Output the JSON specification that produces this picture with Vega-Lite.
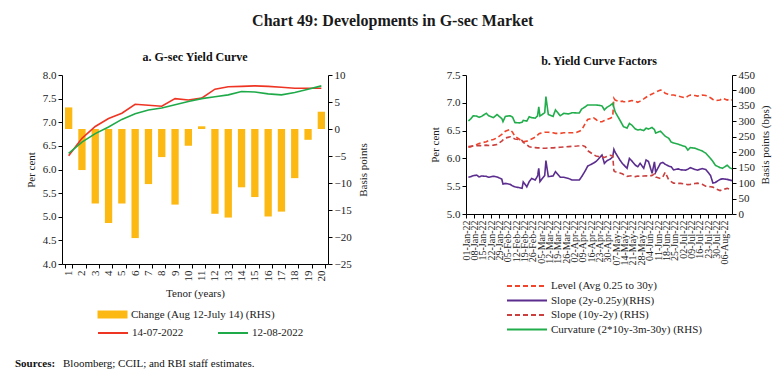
{
  "$schema": "https://vega.github.io/schema/vega-lite/v6.json",
  "padding": {"left": 15, "top": 13, "right": 5, "bottom": 5},
  "title": {"text": "Chart 49: Developments in G-sec Market", "fontSize": 16, "fontWeight": 600, "color": "#1a1a1a", "anchor": "middle", "offset": 22},
  "config": {
    "font": "Liberation Serif",
    "view": {"stroke": null},
    "axis": {"grid": false, "domainColor": "#000", "tickColor": "#000", "labelFontSize": 11, "titleFontSize": 11, "titleFontWeight": "normal", "labelColor": "#222", "titleColor": "#222", "tickSize": 4},
    "legend": {"labelFontSize": 11, "labelColor": "#222"},
    "title": {"fontSize": 12, "fontWeight": "bold", "color": "#111"}
  },
  "datasets": {
    "curve": [
      {"tenor": 1, "change": 4.0}, {"tenor": 2, "change": -7.6}, {"tenor": 3, "change": -13.8}, {"tenor": 4, "change": -17.4},
      {"tenor": 5, "change": -13.8}, {"tenor": 6, "change": -20.2}, {"tenor": 7, "change": -10.2}, {"tenor": 8, "change": -5.2},
      {"tenor": 9, "change": -14.0}, {"tenor": 10, "change": -3.1}, {"tenor": 11, "change": 0.5}, {"tenor": 12, "change": -15.7},
      {"tenor": 13, "change": -16.4}, {"tenor": 14, "change": -10.8}, {"tenor": 15, "change": -12.6}, {"tenor": 16, "change": -16.2},
      {"tenor": 17, "change": -15.3}, {"tenor": 18, "change": -9.1}, {"tenor": 19, "change": -2.0}, {"tenor": 20, "change": 3.2}
    ],
    "yields": [
      {"tenor": 1, "series": "14-07-2022", "value": 6.29}, {"tenor": 2, "series": "14-07-2022", "value": 6.66},
      {"tenor": 3, "series": "14-07-2022", "value": 6.91}, {"tenor": 4, "series": "14-07-2022", "value": 7.08},
      {"tenor": 5, "series": "14-07-2022", "value": 7.19}, {"tenor": 6, "series": "14-07-2022", "value": 7.38},
      {"tenor": 7, "series": "14-07-2022", "value": 7.36}, {"tenor": 8, "series": "14-07-2022", "value": 7.34},
      {"tenor": 9, "series": "14-07-2022", "value": 7.50}, {"tenor": 10, "series": "14-07-2022", "value": 7.47},
      {"tenor": 11, "series": "14-07-2022", "value": 7.51}, {"tenor": 12, "series": "14-07-2022", "value": 7.70},
      {"tenor": 13, "series": "14-07-2022", "value": 7.75}, {"tenor": 14, "series": "14-07-2022", "value": 7.76},
      {"tenor": 15, "series": "14-07-2022", "value": 7.77}, {"tenor": 16, "series": "14-07-2022", "value": 7.76},
      {"tenor": 17, "series": "14-07-2022", "value": 7.74}, {"tenor": 18, "series": "14-07-2022", "value": 7.72},
      {"tenor": 19, "series": "14-07-2022", "value": 7.72}, {"tenor": 20, "series": "14-07-2022", "value": 7.72},
      {"tenor": 1, "series": "12-08-2022", "value": 6.34}, {"tenor": 2, "series": "12-08-2022", "value": 6.58},
      {"tenor": 3, "series": "12-08-2022", "value": 6.76}, {"tenor": 4, "series": "12-08-2022", "value": 6.90},
      {"tenor": 5, "series": "12-08-2022", "value": 7.06}, {"tenor": 6, "series": "12-08-2022", "value": 7.18},
      {"tenor": 7, "series": "12-08-2022", "value": 7.26}, {"tenor": 8, "series": "12-08-2022", "value": 7.30},
      {"tenor": 9, "series": "12-08-2022", "value": 7.37}, {"tenor": 10, "series": "12-08-2022", "value": 7.44},
      {"tenor": 11, "series": "12-08-2022", "value": 7.50}, {"tenor": 12, "series": "12-08-2022", "value": 7.54},
      {"tenor": 13, "series": "12-08-2022", "value": 7.58}, {"tenor": 14, "series": "12-08-2022", "value": 7.65},
      {"tenor": 15, "series": "12-08-2022", "value": 7.64}, {"tenor": 16, "series": "12-08-2022", "value": 7.60},
      {"tenor": 17, "series": "12-08-2022", "value": 7.58}, {"tenor": 18, "series": "12-08-2022", "value": 7.63},
      {"tenor": 19, "series": "12-08-2022", "value": 7.70}, {"tenor": 20, "series": "12-08-2022", "value": 7.77}
    ],
    "factors": [
      {"date": "2022-01-03T00:00", "level": 6.20, "s1": 119, "s2": 218, "curv": 301},
      {"date": "2022-01-05T00:00", "level": 6.21, "s1": 121, "s2": 219, "curv": 308},
      {"date": "2022-01-07T00:00", "level": 6.23, "s1": 124, "s2": 220, "curv": 318},
      {"date": "2022-01-10T00:00", "level": 6.25, "s1": 126, "s2": 221, "curv": 317},
      {"date": "2022-01-12T00:00", "level": 6.27, "s1": 120, "s2": 222, "curv": 313},
      {"date": "2022-01-14T00:00", "level": 6.28, "s1": 123, "s2": 221, "curv": 316},
      {"date": "2022-01-18T00:00", "level": 6.30, "s1": 122, "s2": 223, "curv": 326},
      {"date": "2022-01-20T00:00", "level": 6.32, "s1": 119, "s2": 222, "curv": 318},
      {"date": "2022-01-24T00:00", "level": 6.34, "s1": 122, "s2": 223, "curv": 312},
      {"date": "2022-01-27T00:00", "level": 6.37, "s1": 120, "s2": 225, "curv": 322},
      {"date": "2022-01-31T00:00", "level": 6.43, "s1": 113, "s2": 236, "curv": 309},
      {"date": "2022-02-01T00:00", "level": 6.45, "s1": 97, "s2": 240, "curv": 299},
      {"date": "2022-02-03T00:00", "level": 6.49, "s1": 99, "s2": 246, "curv": 316},
      {"date": "2022-02-07T00:00", "level": 6.52, "s1": 96, "s2": 250, "curv": 318},
      {"date": "2022-02-09T00:00", "level": 6.47, "s1": 91, "s2": 246, "curv": 314},
      {"date": "2022-02-11T00:00", "level": 6.40, "s1": 88, "s2": 243, "curv": 296},
      {"date": "2022-02-15T00:00", "level": 6.34, "s1": 85, "s2": 240, "curv": 295},
      {"date": "2022-02-17T00:00", "level": 6.31, "s1": 83, "s2": 238, "curv": 297},
      {"date": "2022-02-18T00:00", "level": 6.30, "s1": 104, "s2": 232, "curv": 303},
      {"date": "2022-02-21T00:00", "level": 6.31, "s1": 88, "s2": 224, "curv": 301},
      {"date": "2022-02-23T00:00", "level": 6.33, "s1": 105, "s2": 218, "curv": 315},
      {"date": "2022-02-25T00:00", "level": 6.35, "s1": 115, "s2": 216, "curv": 312},
      {"date": "2022-02-28T00:00", "level": 6.38, "s1": 110, "s2": 215, "curv": 310},
      {"date": "2022-03-02T00:00", "level": 6.42, "s1": 123, "s2": 214, "curv": 318},
      {"date": "2022-03-03T00:00", "level": 6.44, "s1": 148, "s2": 214, "curv": 347},
      {"date": "2022-03-04T00:00", "level": 6.45, "s1": 105, "s2": 213, "curv": 317},
      {"date": "2022-03-08T00:00", "level": 6.47, "s1": 125, "s2": 213, "curv": 328},
      {"date": "2022-03-09T00:00", "level": 6.47, "s1": 173, "s2": 213, "curv": 380},
      {"date": "2022-03-11T00:00", "level": 6.47, "s1": 121, "s2": 214, "curv": 322},
      {"date": "2022-03-15T00:00", "level": 6.46, "s1": 123, "s2": 214, "curv": 316},
      {"date": "2022-03-17T00:00", "level": 6.45, "s1": 137, "s2": 215, "curv": 337},
      {"date": "2022-03-21T00:00", "level": 6.45, "s1": 119, "s2": 216, "curv": 318},
      {"date": "2022-03-24T00:00", "level": 6.46, "s1": 119, "s2": 217, "curv": 326},
      {"date": "2022-03-28T00:00", "level": 6.46, "s1": 115, "s2": 218, "curv": 324},
      {"date": "2022-03-31T00:00", "level": 6.46, "s1": 110, "s2": 219, "curv": 328},
      {"date": "2022-04-04T00:00", "level": 6.47, "s1": 110, "s2": 220, "curv": 327},
      {"date": "2022-04-06T00:00", "level": 6.49, "s1": 110, "s2": 221, "curv": 327},
      {"date": "2022-04-08T00:00", "level": 6.51, "s1": 121, "s2": 223, "curv": 340},
      {"date": "2022-04-11T00:00", "level": 6.63, "s1": 140, "s2": 218, "curv": 347},
      {"date": "2022-04-13T00:00", "level": 6.70, "s1": 155, "s2": 205, "curv": 353},
      {"date": "2022-04-18T00:00", "level": 6.73, "s1": 165, "s2": 192, "curv": 353},
      {"date": "2022-04-20T00:00", "level": 6.70, "s1": 170, "s2": 188, "curv": 353},
      {"date": "2022-04-22T00:00", "level": 6.66, "s1": 178, "s2": 186, "curv": 352},
      {"date": "2022-04-25T00:00", "level": 6.66, "s1": 191, "s2": 185, "curv": 350},
      {"date": "2022-04-27T00:00", "level": 6.68, "s1": 164, "s2": 183, "curv": 337},
      {"date": "2022-04-29T00:00", "level": 6.70, "s1": 172, "s2": 186, "curv": 345},
      {"date": "2022-05-02T00:00", "level": 6.72, "s1": 178, "s2": 190, "curv": 352},
      {"date": "2022-05-04T00:00", "level": 6.75, "s1": 185, "s2": 188, "curv": 358},
      {"date": "2022-05-05T00:00", "level": 7.08, "s1": 209, "s2": 140, "curv": 345},
      {"date": "2022-05-06T00:00", "level": 7.05, "s1": 200, "s2": 137, "curv": 331},
      {"date": "2022-05-10T00:00", "level": 7.02, "s1": 175, "s2": 133, "curv": 304},
      {"date": "2022-05-12T00:00", "level": 7.03, "s1": 164, "s2": 130, "curv": 290},
      {"date": "2022-05-13T00:00", "level": 7.02, "s1": 160, "s2": 128, "curv": 283},
      {"date": "2022-05-16T00:00", "level": 7.02, "s1": 148, "s2": 122, "curv": 278},
      {"date": "2022-05-18T00:00", "level": 7.03, "s1": 180, "s2": 123, "curv": 293},
      {"date": "2022-05-20T00:00", "level": 7.04, "s1": 172, "s2": 124, "curv": 288},
      {"date": "2022-05-23T00:00", "level": 7.03, "s1": 158, "s2": 121, "curv": 275},
      {"date": "2022-05-25T00:00", "level": 7.01, "s1": 153, "s2": 123, "curv": 272},
      {"date": "2022-05-27T00:00", "level": 7.03, "s1": 164, "s2": 122, "curv": 274},
      {"date": "2022-05-30T00:00", "level": 7.07, "s1": 148, "s2": 123, "curv": 270},
      {"date": "2022-06-01T00:00", "level": 7.10, "s1": 175, "s2": 124, "curv": 278},
      {"date": "2022-06-03T00:00", "level": 7.13, "s1": 170, "s2": 122, "curv": 275},
      {"date": "2022-06-06T00:00", "level": 7.16, "s1": 132, "s2": 125, "curv": 280},
      {"date": "2022-06-08T00:00", "level": 7.18, "s1": 169, "s2": 130, "curv": 273},
      {"date": "2022-06-09T00:00", "level": 7.19, "s1": 135, "s2": 120, "curv": 262},
      {"date": "2022-06-13T00:00", "level": 7.23, "s1": 164, "s2": 115, "curv": 268},
      {"date": "2022-06-15T00:00", "level": 7.22, "s1": 167, "s2": 120, "curv": 260},
      {"date": "2022-06-17T00:00", "level": 7.17, "s1": 161, "s2": 135, "curv": 252},
      {"date": "2022-06-20T00:00", "level": 7.15, "s1": 155, "s2": 110, "curv": 245},
      {"date": "2022-06-22T00:00", "level": 7.14, "s1": 153, "s2": 105, "curv": 233},
      {"date": "2022-06-24T00:00", "level": 7.14, "s1": 143, "s2": 100, "curv": 230},
      {"date": "2022-06-28T00:00", "level": 7.12, "s1": 146, "s2": 99, "curv": 226},
      {"date": "2022-06-30T00:00", "level": 7.11, "s1": 143, "s2": 99, "curv": 223},
      {"date": "2022-07-04T00:00", "level": 7.09, "s1": 142, "s2": 97, "curv": 218},
      {"date": "2022-07-06T00:00", "level": 7.12, "s1": 145, "s2": 95, "curv": 207},
      {"date": "2022-07-08T00:00", "level": 7.14, "s1": 150, "s2": 96, "curv": 215},
      {"date": "2022-07-12T00:00", "level": 7.13, "s1": 144, "s2": 99, "curv": 213},
      {"date": "2022-07-14T00:00", "level": 7.12, "s1": 142, "s2": 100, "curv": 210},
      {"date": "2022-07-18T00:00", "level": 7.14, "s1": 147, "s2": 96, "curv": 204},
      {"date": "2022-07-21T00:00", "level": 7.13, "s1": 144, "s2": 90, "curv": 197},
      {"date": "2022-07-25T00:00", "level": 7.09, "s1": 125, "s2": 88, "curv": 180},
      {"date": "2022-07-27T00:00", "level": 7.06, "s1": 100, "s2": 87, "curv": 170},
      {"date": "2022-07-29T00:00", "level": 7.04, "s1": 102, "s2": 82, "curv": 158},
      {"date": "2022-08-02T00:00", "level": 7.05, "s1": 112, "s2": 76, "curv": 150},
      {"date": "2022-08-04T00:00", "level": 7.08, "s1": 114, "s2": 79, "curv": 148},
      {"date": "2022-08-08T00:00", "level": 7.05, "s1": 112, "s2": 83, "curv": 158},
      {"date": "2022-08-10T00:00", "level": 7.07, "s1": 110, "s2": 80, "curv": 150},
      {"date": "2022-08-12T00:00", "level": 7.05, "s1": 108, "s2": 80, "curv": 146}
    ]
  },
  "vconcat": [
    {
      "hconcat": [
        {
          "width": 266,
          "height": 189,
          "title": {"text": "a. G-sec Yield Curve", "offset": 5, "anchor": "middle", "frame": "group"},
          "layer": [
            {
              "data": {"name": "curve"},
              "mark": {"type": "bar"},
              "encoding": {
                "x": {"field": "tenor", "type": "ordinal", "scale": {"paddingInner": 0.45, "paddingOuter": 0.225},
                      "axis": {"title": "Tenor (years)", "labelAngle": -90, "labelAlign": "right", "labelBaseline": "middle", "tickBand": "extent", "titlePadding": 6}},
                "y": {"field": "change", "type": "quantitative", "scale": {"domain": [-25, 10], "nice": false, "zero": false},
                      "axis": {"orient": "right", "title": "Basis points", "titleAngle": -90, "titleBaseline": "top", "values": [-25, -20, -15, -10, -5, 0, 5, 10], "titlePadding": 6}},
                "fill": {"datum": "Change (Aug 12-July 14) (RHS)", "type": "nominal",
                         "scale": {"domain": ["Change (Aug 12-July 14) (RHS)"], "range": ["#FDB913"]},
                         "legend": {"title": null, "orient": "none", "legendX": 35, "legendY": 234, "symbolType": "M-1,-0.8H5V0.8H-1Z", "symbolSize": 100, "symbolStrokeWidth": 0, "labelOffset": 23}}
              }
            },
            {
              "data": {"name": "yields"},
              "mark": {"type": "line", "strokeWidth": 1.6},
              "encoding": {
                "x": {"field": "tenor", "type": "ordinal"},
                "y": {"field": "value", "type": "quantitative", "scale": {"domain": [4, 8], "nice": false, "zero": false},
                      "axis": {"orient": "left", "title": "Per cent", "values": [4, 4.5, 5, 5.5, 6, 6.5, 7, 7.5, 8], "format": ".1f", "titlePadding": 6}},
                "stroke": {"field": "series", "type": "nominal",
                           "scale": {"domain": ["14-07-2022", "12-08-2022"], "range": ["#EE3524", "#1FAA4A"]},
                           "legend": {"title": null, "orient": "none", "legendX": 35, "legendY": 252, "direction": "horizontal", "columnPadding": 30, "symbolType": "M-1,0H5", "symbolSize": 100, "symbolStrokeWidth": 2, "labelOffset": 23}}
              }
            }
          ],
          "resolve": {"scale": {"y": "independent"}}
        },
        {
          "width": 266,
          "height": 139,
          "title": {"text": "b. Yield Curve Factors", "offset": 1, "anchor": "middle", "frame": "group"},
          "data": {"name": "factors"},
          "transform": [{"fold": ["level", "s1", "s2", "curv"], "as": ["series", "value"]}],
          "encoding": {
            "x": {"field": "date", "type": "temporal",
                  "scale": {"domain": [{"year": 2022, "month": 1, "date": 1}, {"year": 2022, "month": 8, "date": 12}]},
                  "axis": {"title": null, "format": "%d-%b-%y", "labelAngle": -90, "labelAlign": "right", "labelBaseline": "middle", "labelFontSize": 10, "labelOverlap": false,
                           "values": [
                             {"year": 2022, "month": 1, "date": 1}, {"year": 2022, "month": 1, "date": 8}, {"year": 2022, "month": 1, "date": 15}, {"year": 2022, "month": 1, "date": 22}, {"year": 2022, "month": 1, "date": 29},
                             {"year": 2022, "month": 2, "date": 5}, {"year": 2022, "month": 2, "date": 12}, {"year": 2022, "month": 2, "date": 19}, {"year": 2022, "month": 2, "date": 26},
                             {"year": 2022, "month": 3, "date": 5}, {"year": 2022, "month": 3, "date": 12}, {"year": 2022, "month": 3, "date": 19}, {"year": 2022, "month": 3, "date": 26},
                             {"year": 2022, "month": 4, "date": 2}, {"year": 2022, "month": 4, "date": 9}, {"year": 2022, "month": 4, "date": 16}, {"year": 2022, "month": 4, "date": 23}, {"year": 2022, "month": 4, "date": 30},
                             {"year": 2022, "month": 5, "date": 7}, {"year": 2022, "month": 5, "date": 14}, {"year": 2022, "month": 5, "date": 21}, {"year": 2022, "month": 5, "date": 28},
                             {"year": 2022, "month": 6, "date": 4}, {"year": 2022, "month": 6, "date": 11}, {"year": 2022, "month": 6, "date": 18}, {"year": 2022, "month": 6, "date": 25},
                             {"year": 2022, "month": 7, "date": 2}, {"year": 2022, "month": 7, "date": 9}, {"year": 2022, "month": 7, "date": 16}, {"year": 2022, "month": 7, "date": 23}, {"year": 2022, "month": 7, "date": 30},
                             {"year": 2022, "month": 8, "date": 6}
                           ]}},
            "stroke": {"field": "series", "type": "nominal",
                       "scale": {"domain": ["level", "s1", "s2", "curv"], "range": ["#F0452B", "#5B2D8E", "#C9403F", "#21AD4B"]},
                       "legend": {"title": null, "orient": "none", "legendX": 40, "legendY": 205, "direction": "vertical", "rowPadding": 3.5,
                                  "symbolType": "M-1,0H7", "symbolSize": 100, "symbolStrokeWidth": 2, "labelOffset": 33,
                                  "labelExpr": "{'level': 'Level (Avg 0.25 to 30y)', 's1': 'Slope (2y-0.25y)(RHS)', 's2': 'Slope (10y-2y) (RHS)', 'curv': 'Curvature (2*10y-3m-30y) (RHS)'}[datum.label]"}},
            "strokeDash": {"field": "series", "type": "nominal",
                           "scale": {"domain": ["level", "s1", "s2", "curv"], "range": [[5, 3], [1, 0], [5, 3], [1, 0]]},
                           "legend": {"title": null, "orient": "none", "legendX": 40, "legendY": 205, "direction": "vertical", "rowPadding": 3.5,
                                      "symbolType": "M-1,0H7", "symbolSize": 100, "symbolStrokeWidth": 2, "labelOffset": 33,
                                      "labelExpr": "{'level': 'Level (Avg 0.25 to 30y)', 's1': 'Slope (2y-0.25y)(RHS)', 's2': 'Slope (10y-2y) (RHS)', 'curv': 'Curvature (2*10y-3m-30y) (RHS)'}[datum.label]"}}
          },
          "layer": [
            {
              "transform": [{"filter": "datum.series === 'level'"}],
              "mark": {"type": "line", "strokeWidth": 1.6},
              "encoding": {
                "y": {"field": "value", "type": "quantitative", "scale": {"domain": [5, 7.5], "nice": false, "zero": false},
                      "axis": {"orient": "left", "title": "Per cent", "values": [5, 5.5, 6, 6.5, 7, 7.5], "format": ".1f", "titlePadding": 6}}
              }
            },
            {
              "transform": [{"filter": "datum.series !== 'level'"}],
              "mark": {"type": "line", "strokeWidth": 1.6},
              "encoding": {
                "y": {"field": "value", "type": "quantitative", "scale": {"domain": [0, 450], "nice": false},
                      "axis": {"orient": "right", "title": "Basis points (bps)", "titleAngle": -90, "titleBaseline": "top", "values": [0, 50, 100, 150, 200, 250, 300, 350, 400, 450], "titlePadding": 5}}
              }
            }
          ],
          "resolve": {"scale": {"y": "independent"}}
        }
      ],
      "spacing": 60,
      "resolve": {"scale": {"stroke": "independent", "strokeDash": "independent", "fill": "independent"}, "legend": {"stroke": "independent", "strokeDash": "independent", "fill": "independent"}}
    },
    {
      "hconcat": [
        {"data": {"values": []}, "mark": "point", "width": 1, "height": 1, "title": {"text": "Sources:", "fontSize": 11, "fontWeight": "bold", "anchor": "start", "offset": 0, "dx": -47}},
        {"data": {"values": []}, "mark": "point", "width": 300, "height": 1, "title": {"text": "Bloomberg; CCIL; and RBI staff estimates.", "fontSize": 11, "fontWeight": "normal", "anchor": "start", "offset": 0}}
      ],
      "spacing": 0
    }
  ],
  "spacing": 20
}
